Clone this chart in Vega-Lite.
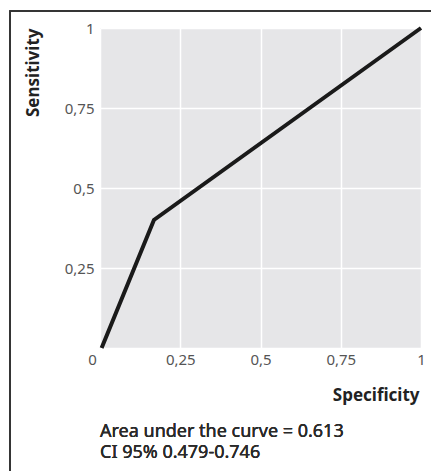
{
  "$schema": "https://vega.github.io/schema/vega-lite/v6.json",
  "width": 321,
  "height": 320,
  "autosize": {"type": "none"},
  "padding": {"left": 100, "top": 28, "right": 10, "bottom": 123},
  "background": "white",
  "config": {
    "view": {"fill": "#e6e6e8", "stroke": null},
    "font": "Noto Sans",
    "axis": {
      "grid": true,
      "gridColor": "white",
      "gridWidth": 1.5,
      "domain": false,
      "ticks": false,
      "labelFont": "Noto Sans",
      "labelFontSize": 15,
      "labelFontWeight": "normal",
      "labelColor": "#555555",
      "titleFont": "Noto Sans",
      "titleFontSize": 17,
      "titleFontWeight": "bold",
      "titleColor": "#222222"
    }
  },
  "data": {
    "values": [
      {"specificity": 0.005, "sensitivity": 0},
      {"specificity": 0.168, "sensitivity": 0.4},
      {"specificity": 1, "sensitivity": 1}
    ]
  },
  "layer": [
    {
      "mark": {"type": "line", "color": "#1a1a1a", "strokeWidth": 4},
      "encoding": {
        "x": {
          "field": "specificity",
          "type": "quantitative",
          "scale": {"domain": [0, 1], "nice": false, "zero": false},
          "axis": {
            "values": [0, 0.25, 0.5, 0.75, 1],
            "labelExpr": "replace(toString(datum.value), '.', ',')",
            "labelPadding": 4,
            "labelOffset": {"condition": {"test": "datum.value == 0", "value": -8}, "value": 0},
            "labelFlush": false,
            "title": "Specificity",
            "titleX": 319,
            "titleY": 47,
            "titleAlign": "right",
            "titleBaseline": "middle",
            "titleAngle": 0
          }
        },
        "y": {
          "field": "sensitivity",
          "type": "quantitative",
          "scale": {"domain": [0, 1], "nice": false, "zero": false},
          "axis": {
            "values": [0, 0.25, 0.5, 0.75, 1],
            "labelExpr": "datum.value == 0 ? '' : replace(toString(datum.value), '.', ',')",
            "labelPadding": 6,
            "labelFlush": false,
            "title": "Sensitivity",
            "titleX": -67,
            "titleY": 0,
            "titleAlign": "right",
            "titleBaseline": "middle",
            "titleAngle": -90
          }
        }
      }
    },
    {
      "mark": {"type": "text", "align": "left", "baseline": "alphabetic", "font": "Noto Sans", "fontSize": 18, "fontWeight": "normal", "color": "#2a2a2a", "clip": false},
      "encoding": {
        "x": {"datum": 0, "type": "quantitative"},
        "y": {"datum": -0.278125, "type": "quantitative"},
        "text": {"value": "Area under the curve = 0.613"}
      }
    },
    {
      "mark": {"type": "text", "align": "left", "baseline": "alphabetic", "font": "Noto Sans", "fontSize": 18, "fontWeight": "normal", "color": "#2a2a2a", "clip": false},
      "encoding": {
        "x": {"datum": 0, "type": "quantitative"},
        "y": {"datum": -0.34375, "type": "quantitative"},
        "text": {"value": "CI 95% 0.479-0.746"}
      }
    },
    {
      "mark": {"type": "rect", "fill": null, "stroke": "#333333", "strokeWidth": 1.5, "clip": false},
      "encoding": {
        "x": {"datum": -0.2804, "type": "quantitative"},
        "x2": {"datum": 1.5},
        "y": {"datum": 1.053, "type": "quantitative"},
        "y2": {"datum": -0.6}
      }
    }
  ]
}
